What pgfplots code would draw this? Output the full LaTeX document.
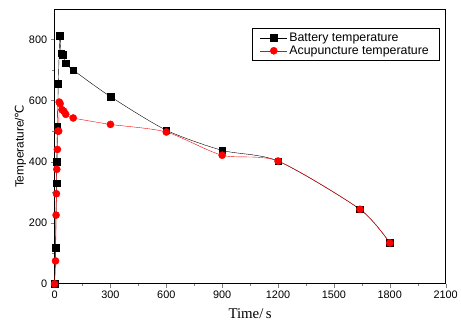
\documentclass[border=0pt]{standalone}
\usepackage{fontspec}
\setmainfont{Liberation Sans}
\newfontfamily\seriff{Liberation Serif}
\newfontfamily\dejavu{DejaVu Sans}
\usepackage{pgfplots}
\pgfplotsset{compat=1.18}
\begin{document}
\begin{tikzpicture}
\begin{axis}[
  name=ax,
  scale only axis,
  width=394bp, height=277bp,
  xmin=0, xmax=2100, ymin=0, ymax=900,
  xtick={0,300,...,2100}, ytick={0,200,...,800},
  minor x tick num=1, minor y tick num=1,
  tick align=outside, tick pos=left,
  major tick length=4bp, minor tick length=2.5bp,
  /pgf/number format/assume math mode=true,
  /pgf/number format/1000 sep={},
  tick label style={font=\fontsize{11}{12}\selectfont},
  xlabel={\seriff\fontsize{15}{17}\selectfont Time/\,s},
  ylabel={\fontsize{12}{13}\selectfont Temperature/{\dejavu ℃}},
  xlabel style={yshift=-3bp},
  ylabel style={yshift=-4bp},
  legend image code/.code={\draw[#1] (0bp,0bp) -- (27bp,0bp); \draw[#1, only marks] plot coordinates {(13.5bp,0bp)};},
  legend style={at={(0.505,0.93)}, anchor=north west, font=\fontsize{12.5}{14}\selectfont, draw=black, inner xsep=8bp, inner ysep=2.5bp, row sep=-1bp, cells={anchor=west}},
  axis line style={line width=0.8pt},
]
\addplot[black, thin, smooth, tension=0.45, mark=square*, mark size=3.3bp, mark options={fill=black}] coordinates {
(0,0) (5,118) (10,330) (12,400) (15,515) (20,655) (28,812) (35,755) (45,750) (60,722) (100,700) (300,613) (600,503) (900,437) (1200,402) (1640,244) (1800,134)};
\addlegendentry{Battery temperature}
\addplot[red, thin, smooth, tension=0.45, mark=*, mark size=3.6bp, mark options={fill=red}] coordinates {
(0,0) (5,75) (8,225) (10,295) (12,375) (15,440) (18,500) (22,500) (25,595) (30,590) (40,570) (50,565) (60,555) (100,543) (300,522) (600,497) (900,421) (1200,402) (1640,244) (1800,134)};
\addlegendentry{Acupuncture temperature}
\end{axis}
\useasboundingbox ([shift={(-55bp,-41bp)}]ax.south west) rectangle ([shift={(12bp,9bp)}]ax.north east);
\end{tikzpicture}
\end{document}
